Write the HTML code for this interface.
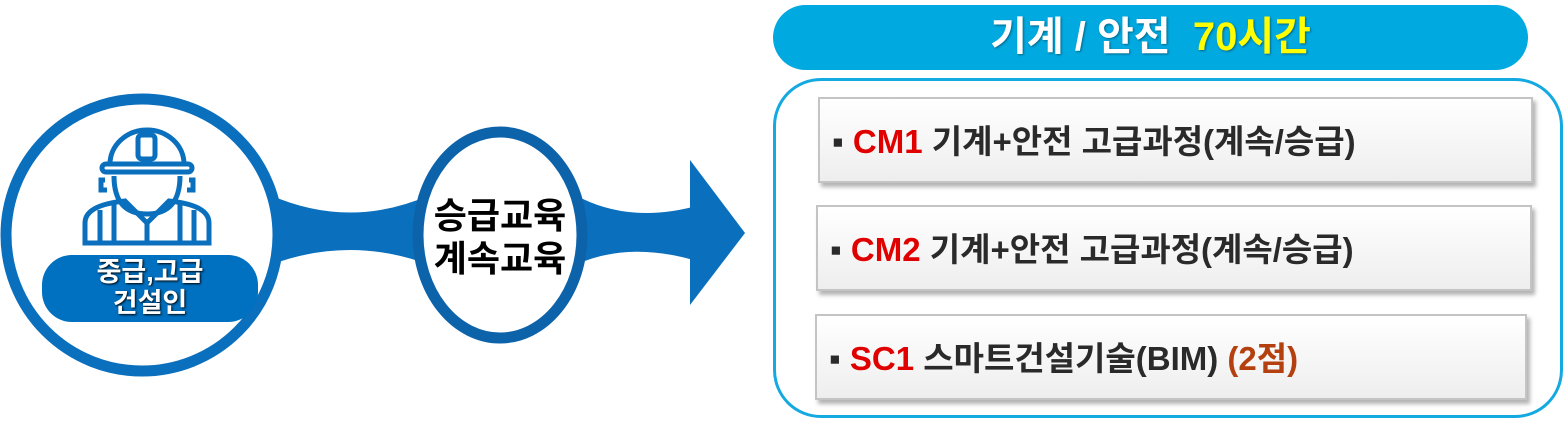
<!DOCTYPE html>
<html><head><meta charset="utf-8"><style>
body{margin:0;width:1567px;height:421px;background:#fff;position:relative;overflow:hidden;font-family:"Liberation Sans","Noto Sans CJK KR",sans-serif}
.abs{position:absolute}
.hdr{left:773px;top:5px;width:755px;height:65px;border-radius:33px;background:#00a9e0;color:#fff;font-weight:bold;font-size:40px;text-align:center;line-height:65px;text-shadow:1px 1px 2px rgba(0,0,0,.4)}
.outer{left:773px;top:78px;width:784px;height:334px;border:3px solid #14a9e0;border-radius:48px}
.item{height:86px;border:2px solid #c4c4c4;background:linear-gradient(#fff,#eeeeee);box-shadow:3px 4px 4px rgba(0,0,0,.3);font-weight:bold;font-size:33px;color:#2a2a2a;line-height:86px;padding-left:12px;box-sizing:border-box;white-space:nowrap}
.r{color:#e00000}
</style></head><body>
<svg class="abs" style="left:0;top:0" width="760" height="421">
<path d="M270 195 Q350 230 430 195 L430 265 Q350 235 270 265Z" fill="#0a6fbd"/>
<path d="M575 195 Q630 225 700 205 L700 262 Q630 240 575 265Z" fill="#0a6fbd"/>
<polygon points="690,160 745,233 690,305" fill="#0a6fbd"/>
<ellipse cx="142" cy="235" rx="136" ry="136" fill="#fff" stroke="#0a6fbd" stroke-width="11"/>
<ellipse cx="500" cy="235" rx="82" ry="103" fill="#fff" stroke="#0d63aa" stroke-width="11"/>
<g fill="none" stroke="#0a6fbd" stroke-width="5">
<path d="M110 164 a37 34 0 0 1 74 0"/><rect x="102" y="164" width="90" height="8" rx="4"/>
<rect x="138" y="135" width="17" height="24" rx="4"/>
<path d="M114 176 q0 38 33 38 q33 0 33 -38"/>
<path d="M105 180 h-4 v10 h6 M189 180 h4 v10 h-6"/>
<path d="M85 243 v-20 q0 -18 40 -22 l22 22 l22 -22 q40 4 40 22 v20 z"/>
<path d="M100 210 v33 M114 203 v40 M180 203 v40 M194 210 v33 M147 223 v20"/>
</g>
</svg>
<div class="abs" style="left:42px;top:255px;width:216px;height:67px;border-radius:30px;background:#0070c0;color:#fff;font-weight:bold;font-size:27px;text-align:center;line-height:31px;padding-top:2px;box-sizing:border-box;text-shadow:1px 1px 2px #000">중급,고급<br>건설인</div>
<div class="abs" style="left:418px;top:194px;width:164px;text-align:center;font-weight:bold;font-size:36px;line-height:43px;color:#000">승급교육<br>계속교육</div>
<div class="abs hdr">기계 / 안전 &nbsp;<span style="color:#ffff00">70시간</span></div>
<div class="abs outer"></div>
<div class="abs item" style="left:818px;top:97px;width:715px">▪ <span class="r">CM1</span> 기계+안전 고급과정(계속/승급)</div>
<div class="abs item" style="left:816px;top:205px;width:716px">▪ <span class="r">CM2</span> 기계+안전 고급과정(계속/승급)</div>
<div class="abs item" style="left:815px;top:314px;width:712px">▪ <span class="r">SC1</span> 스마트건설기술(BIM) <span style="color:#b5400f">(2점)</span></div>
</body></html>
